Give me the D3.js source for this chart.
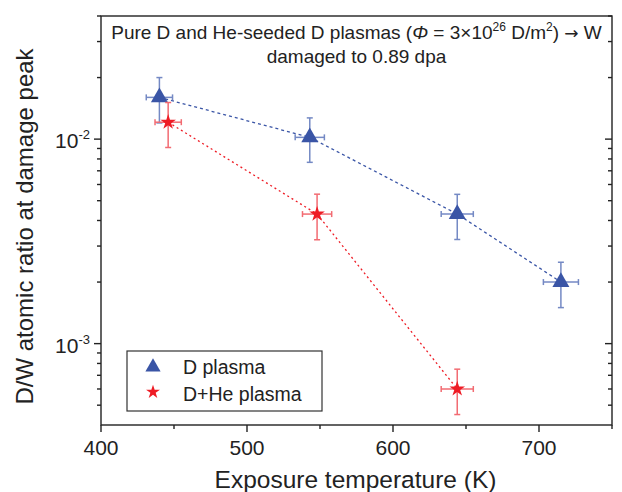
<!DOCTYPE html>
<html>
<head>
<meta charset="utf-8">
<script src="https://cdn.jsdelivr.net/npm/d3@7"></script>
<style>
  body { margin: 0; background: #fff; }
  svg { display: block; font-family: "Liberation Sans", Arial, sans-serif; }
</style>
</head>
<body>
<div id="chart"></div>
<script>
// D plasma series
const dTemp = [440, 543, 644, 715];
const dTempErr = [9, 10, 11, 12];
const dRatio = [1.6e-2, 1.02e-2, 4.3e-3, 2.0e-3];
const dRatioErr = [0.4e-2, 0.25e-2, 1.07e-3, 0.5e-3];

// D+He plasma series
const heTemp = [446, 548, 644];
const heTempErr = [9, 10, 11];
const heRatio = [1.21e-2, 4.3e-3, 6.0e-4];
const heRatioErr = [0.3e-2, 1.08e-3, 1.5e-4];

const xTicks = [400, 500, 600, 700];
const xMinor = [450, 550, 650, 750];
const yTicks = [1e-3, 1e-2];
const yMinor = [5e-4, 6e-4, 7e-4, 8e-4, 9e-4, 2e-3, 3e-3, 4e-3, 5e-3, 6e-3, 7e-3, 8e-3, 9e-3, 2e-2, 3e-2, 4e-2];
const yTickLabels = ["-3", "-2"];

const W = 622, H = 492;
const m = {top: 16, right: 10, bottom: 67, left: 101};
const w = W - m.left - m.right;
const h = H - m.top - m.bottom;

const blue = "#3a55a6", blueErr = "#7489c4";
const red = "#ee1c25", redErr = "#f26b72";

let svg = d3.select("#chart").append("svg")
  .attr("width", W)
  .attr("height", H);

let x = d3.scaleLinear().domain([400, 750]).range([m.left, m.left + w]);
let y = d3.scaleLog().domain([4e-4, 4e-2]).range([m.top + h, m.top]);

// frame
svg.append("rect")
  .attr("x", m.left).attr("y", m.top)
  .attr("width", w).attr("height", h)
  .attr("fill", "none").attr("stroke", "#222").attr("stroke-width", 1.4);

let axes = svg.append("g").attr("stroke", "#222").attr("stroke-width", 1.4);

// bottom ticks (outward)
axes.selectAll(".xt").data(xTicks).enter().append("line")
  .attr("x1", d => x(d)).attr("x2", d => x(d))
  .attr("y1", m.top + h).attr("y2", m.top + h + 7);
axes.selectAll(".xm").data(xMinor).enter().append("line")
  .attr("x1", d => x(d)).attr("x2", d => x(d))
  .attr("y1", m.top + h).attr("y2", m.top + h + 4);

// left ticks outward, right ticks inward
[m.left, m.left + w].forEach(x0 => {
  axes.append("g").selectAll("line").data(yTicks).enter().append("line")
    .attr("x1", x0).attr("x2", x0 - 7)
    .attr("y1", d => y(d)).attr("y2", d => y(d));
  axes.append("g").selectAll("line").data(yMinor).enter().append("line")
    .attr("x1", x0).attr("x2", x0 - 4)
    .attr("y1", d => y(d)).attr("y2", d => y(d));
});

// tick labels
svg.append("g").selectAll("text").data(xTicks).enter().append("text")
  .attr("x", d => x(d)).attr("y", m.top + h + 30)
  .attr("text-anchor", "middle").attr("font-size", 21).attr("fill", "#222")
  .text(d => d);

let yl = svg.append("g").selectAll("text").data(yTicks).enter().append("text")
  .attr("x", m.left - 11).attr("y", d => y(d) + 9)
  .attr("text-anchor", "end").attr("font-size", 21).attr("fill", "#222");
yl.append("tspan").text("10");
yl.append("tspan").attr("dy", -9).attr("font-size", 13).text((d, i) => yTickLabels[i]);

// axis titles
svg.append("text")
  .attr("x", m.left + w / 2 - 1).attr("y", 488)
  .attr("text-anchor", "middle").attr("font-size", 24.5).attr("fill", "#222")
  .text("Exposure temperature (K)");
svg.append("text")
  .attr("transform", `translate(33,${m.top + h / 2 + 6}) rotate(-90)`)
  .attr("text-anchor", "middle").attr("font-size", 24).attr("fill", "#222")
  .text("D/W atomic ratio at damage peak");

// title inside plot
let t1 = svg.append("text")
  .attr("x", m.left + w / 2).attr("y", 39)
  .attr("text-anchor", "middle").attr("font-size", 19).attr("fill", "#222");
t1.append("tspan").text("Pure D and He-seeded D plasmas (");
t1.append("tspan").attr("font-style", "italic").text("\u03A6");
t1.append("tspan").text(" = 3\u00D710");
t1.append("tspan").attr("dy", -8).attr("font-size", 12).text("26");
t1.append("tspan").attr("dy", 8).text(" D/m");
t1.append("tspan").attr("dy", -8).attr("font-size", 12).text("2");
t1.append("tspan").attr("dy", 8).text(") ");
t1.append("tspan").attr("font-family", "DejaVu Sans").attr("font-size", 17).text("\u2192");
t1.append("tspan").text(" W");
svg.append("text")
  .attr("x", m.left + w / 2).attr("y", 63)
  .attr("text-anchor", "middle").attr("font-size", 19).attr("fill", "#222")
  .text("damaged to 0.89 dpa");

function series(temp, tErr, ratio, rErr, color, errColor, dash, symbol, size) {
  let pts = temp.map((t, i) => ({t: t, te: tErr[i], r: ratio[i], re: rErr[i]}));
  let g = svg.append("g");

  g.append("path")
    .datum(pts)
    .attr("fill", "none").attr("stroke", color).attr("stroke-width", 1.3)
    .attr("stroke-dasharray", dash)
    .attr("d", d3.line().x(d => x(d.t)).y(d => y(d.r)));

  let e = g.selectAll(".err").data(pts).enter().append("g")
    .attr("stroke", errColor).attr("stroke-width", 1.5);
  e.append("line")
    .attr("x1", d => x(d.t)).attr("x2", d => x(d.t))
    .attr("y1", d => y(d.r + d.re)).attr("y2", d => y(d.r - d.re));
  e.append("line")
    .attr("x1", d => x(d.t) - 3).attr("x2", d => x(d.t) + 3)
    .attr("y1", d => y(d.r + d.re)).attr("y2", d => y(d.r + d.re));
  e.append("line")
    .attr("x1", d => x(d.t) - 3).attr("x2", d => x(d.t) + 3)
    .attr("y1", d => y(d.r - d.re)).attr("y2", d => y(d.r - d.re));
  e.append("line")
    .attr("x1", d => x(d.t - d.te)).attr("x2", d => x(d.t + d.te))
    .attr("y1", d => y(d.r)).attr("y2", d => y(d.r));
  e.append("line")
    .attr("x1", d => x(d.t - d.te)).attr("x2", d => x(d.t - d.te))
    .attr("y1", d => y(d.r) - 3).attr("y2", d => y(d.r) + 3);
  e.append("line")
    .attr("x1", d => x(d.t + d.te)).attr("x2", d => x(d.t + d.te))
    .attr("y1", d => y(d.r) - 3).attr("y2", d => y(d.r) + 3);

  g.selectAll(".pt").data(pts).enter().append("path")
    .attr("transform", d => `translate(${x(d.t)},${y(d.r)})`)
    .attr("fill", color)
    .attr("d", d3.symbol().type(symbol).size(size));
}

series(dTemp, dTempErr, dRatio, dRatioErr, blue, blueErr, "3,3", d3.symbolTriangle, 125);
series(heTemp, heTempErr, heRatio, heRatioErr, red, redErr, "2,3", d3.symbolStar, 75);

// legend
let lg = svg.append("g").attr("transform", "translate(127,351)");
lg.append("rect")
  .attr("width", 195).attr("height", 60)
  .attr("fill", "#fff").attr("stroke", "#333").attr("stroke-width", 1.2);
lg.append("path").attr("transform", "translate(26,16)")
  .attr("fill", blue).attr("d", d3.symbol().type(d3.symbolTriangle).size(100));
lg.append("path").attr("transform", "translate(26,41)")
  .attr("fill", red).attr("d", d3.symbol().type(d3.symbolStar).size(60));
lg.append("text").attr("x", 56).attr("y", 23)
  .attr("font-size", 19.5).attr("fill", "#222").text("D plasma");
lg.append("text").attr("x", 56).attr("y", 50)
  .attr("font-size", 19.5).attr("fill", "#222").text("D+He plasma");
</script>
</body>
</html>
